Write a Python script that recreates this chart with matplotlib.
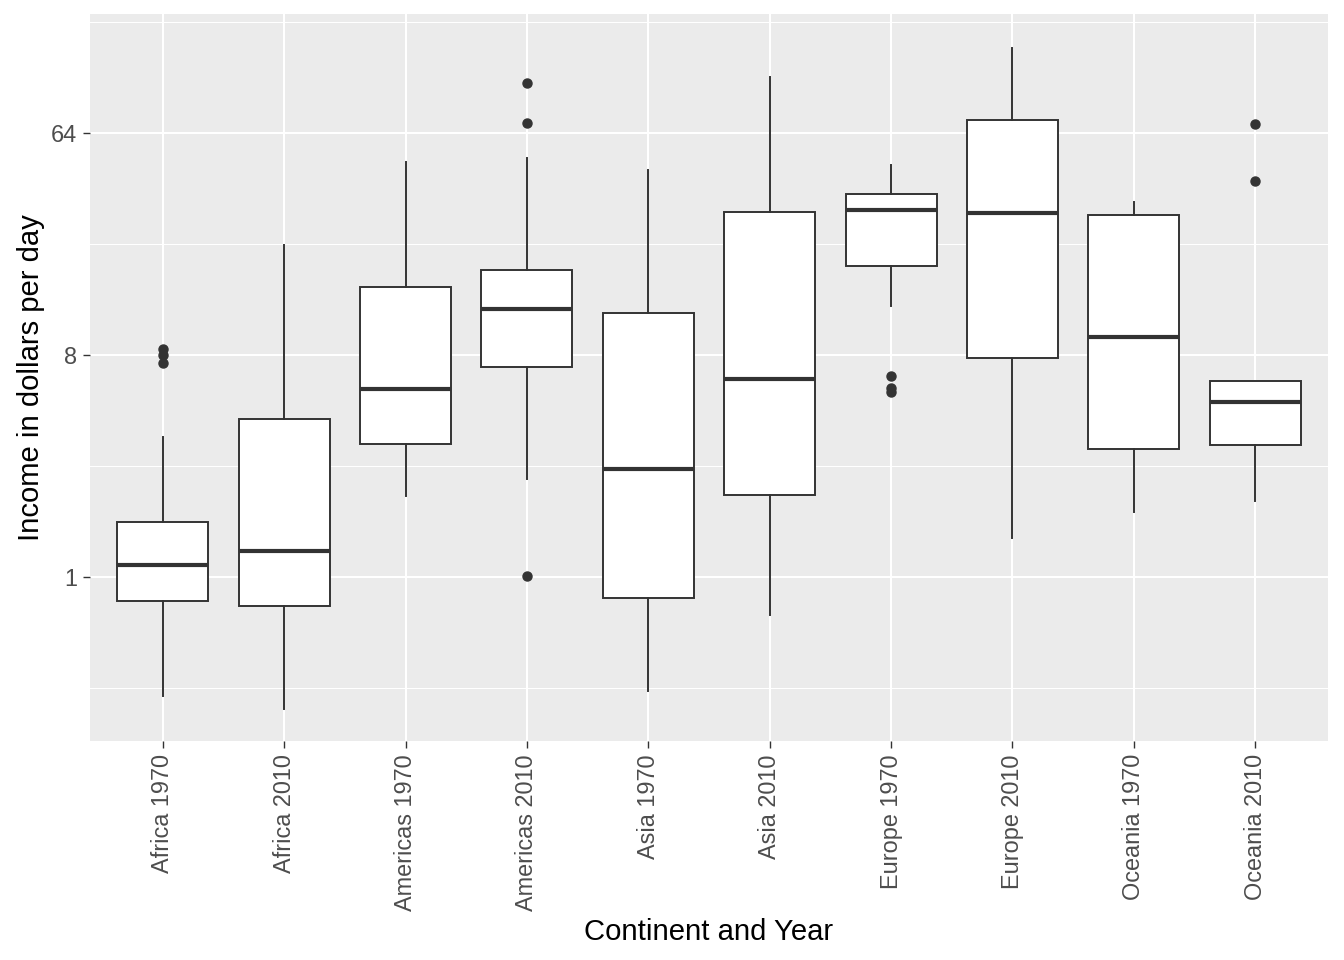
import matplotlib
matplotlib.use("Agg")
import matplotlib.pyplot as plt
import numpy as np
from matplotlib.ticker import FixedLocator, NullFormatter

categories = ["Africa 1970", "Africa 2010", "Americas 1970", "Americas 2010",
              "Asia 1970", "Asia 2010", "Europe 1970", "Europe 2010",
              "Oceania 1970", "Oceania 2010"]
whislo = [0.329, 0.291, 2.14, 2.51, 0.344, 0.699, 12.7, 1.44, 1.83, 2.04]
q1     = [0.80, 0.762, 3.48, 7.17, 0.818, 2.16, 18.4, 7.77, 3.32, 3.44]
median = [1.12, 1.28, 5.80, 12.28, 2.74, 6.37, 31.0, 30.3, 9.44, 5.17]
q3     = [1.68, 4.41, 15.17, 17.8, 11.85, 30.5, 36.0, 72.6, 29.7, 6.27]
whishi = [3.71, 22.4, 48.8, 50.6, 45.3, 108.4, 47.4, 141.6, 33.4, 6.27]
outliers = [[8.46, 8.0, 7.44], [], [], [102.5, 70.5, 1.01], [], [],
            [6.58, 5.85, 5.68], [], [], [69.8, 40.9]]

y_major = [1/8, 1, 8, 64, 512]
y_minor = [2**-1.5, 2**1.5, 2**4.5, 2**7.5]
y_labels = ["0.125", "1", "8", "64", "512"]

plt.rcParams['font.family'] = ['Liberation Sans', 'DejaVu Sans']

fig = plt.figure(figsize=(13.44, 9.6), dpi=100)
ax = fig.add_axes([90/1344, 1-741/960, (1328-90)/1344, (741-14)/960])
ax.set_facecolor("#EBEBEB")

stats = []
for i in range(len(categories)):
    stats.append(dict(whislo=whislo[i], q1=q1[i], med=median[i], q3=q3[i],
                      whishi=whishi[i], fliers=outliers[i], label=categories[i]))

dark = "#333333"
positions = np.arange(1, len(categories) + 1)
ax.bxp(stats, positions=positions, widths=0.75, patch_artist=True, showcaps=False,
       boxprops=dict(facecolor="white", edgecolor=dark, linewidth=1.4),
       whiskerprops=dict(color=dark, linewidth=1.4),
       medianprops=dict(color=dark, linewidth=3.0, solid_capstyle="butt"),
       flierprops=dict(marker="o", markerfacecolor=dark, markeredgecolor=dark,
                       markersize=6.5, linestyle="none"),
       zorder=3)

ax.set_yscale("log", base=2)
ax.set_ylim(2**-2.216, 2**7.608)
ax.set_xlim(0.4, len(categories) + 0.6)

ax.yaxis.set_major_locator(FixedLocator(y_major))
ax.set_yticklabels(y_labels)
ax.yaxis.set_minor_locator(FixedLocator(y_minor))
ax.yaxis.set_minor_formatter(NullFormatter())
ax.set_xticks(positions)
ax.set_xticklabels(categories, rotation=90, ha="center", va="top")

ax.grid(which="major", color="white", linewidth=1.5, zorder=0)
ax.grid(which="minor", axis="y", color="white", linewidth=0.75, zorder=0)
ax.set_axisbelow(True)

for s in ax.spines.values():
    s.set_visible(False)
ax.tick_params(which="major", length=5.3, width=1.0, color=dark, labelsize=16.9,
               labelcolor="#4D4D4D", pad=4.2)
ax.tick_params(which="minor", length=0)

ax.set_xlabel("Continent and Year", fontsize=21.1, color="black", labelpad=5)
ax.set_ylabel("Income in dollars per day", fontsize=21.1, color="black", labelpad=4)

fig.savefig("out.png", dpi=100)
